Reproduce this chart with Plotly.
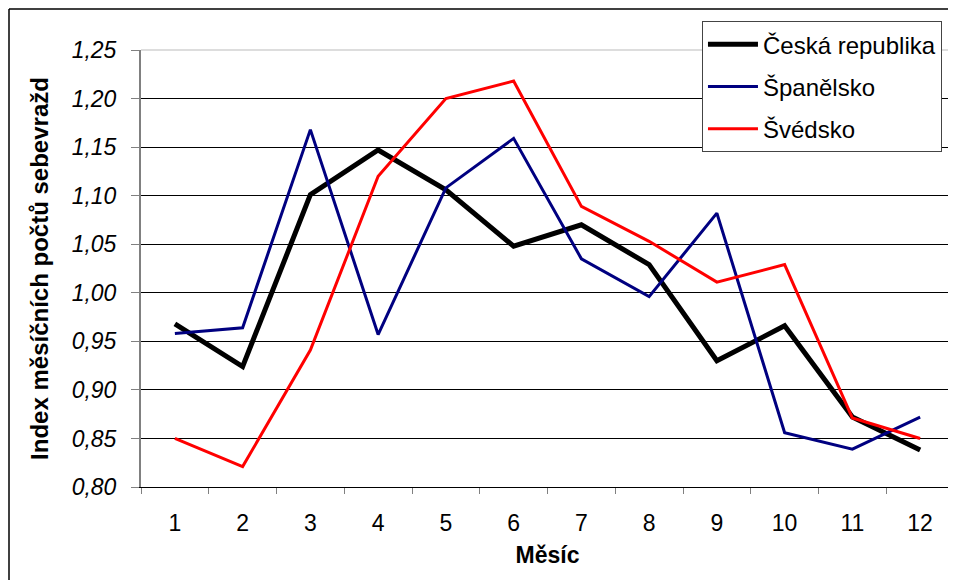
import plotly.graph_objects as go

months = ["1", "2", "3", "4", "5", "6", "7", "8", "9", "10", "11", "12"]
ceska = [0.968, 0.924, 1.101, 1.147, 1.106, 1.048, 1.070, 1.029, 0.930, 0.966, 0.872, 0.838]
spanelsko = [0.958, 0.964, 1.168, 0.957, 1.108, 1.159, 1.035, 0.996, 1.082, 0.856, 0.839, 0.872]
svedsko = [0.850, 0.821, 0.941, 1.120, 1.200, 1.218, 1.089, 1.053, 1.011, 1.029, 0.871, 0.850]
y_ticks = [0.80, 0.85, 0.90, 0.95, 1.00, 1.05, 1.10, 1.15, 1.20, 1.25]

FONT = "Liberation Sans, Arial, sans-serif"

fig = go.Figure()
fig.add_trace(go.Scatter(x=months, y=ceska, mode="lines", name="Česká republika",
                         line=dict(color="#000000", width=5), legendgroup="a"))
fig.add_trace(go.Scatter(x=months, y=spanelsko, mode="lines", name="Španělsko",
                         line=dict(color="#000080", width=3), legendgroup="b"))
fig.add_trace(go.Scatter(x=months, y=svedsko, mode="lines", name="Švédsko",
                         line=dict(color="#FF0000", width=3), legendgroup="c"))

L, R, T, B = 133, 10, 42, 101
PW, PH = 956 - L - R, 580 - T - B

fig.update_layout(
    width=956, height=580,
    margin=dict(l=L, r=R, t=T, b=B),
    paper_bgcolor="white", plot_bgcolor="white",
    separators=", ",
    font=dict(family=FONT, color="black"),
    showlegend=True,
    legend=dict(
        x=0.690, xanchor="left", y=1.066, yanchor="top",
        bgcolor="white", bordercolor="#444444", borderwidth=1,
        font=dict(size=24, family=FONT, color="black"),
        tracegroupgap=8, itemwidth=50,
    ),
    xaxis=dict(
        type="category", tickson="boundaries", ticks="outside", ticklen=6,
        tickcolor="#808080", showline=True, linecolor="black", linewidth=1,
        showgrid=False, tickfont=dict(size=23, family=FONT),
        ticklabelstandoff=15,
        title=dict(text="<b>Měsíc</b>", font=dict(size=23), standoff=12),
        range=[-0.5, 11.5],
    ),
    yaxis=dict(
        range=[0.80, 1.25], tickvals=y_ticks, tickformat=".2f",
        ticks="outside", ticklen=8, tickcolor="#808080",
        showline=True, linecolor="#808080", linewidth=2,
        showgrid=True, gridcolor="black", gridwidth=1,
        tickfont=dict(size=23, family=FONT, style="italic"),
        ticklabelstandoff=10,
        title=dict(text="<b>Index měsíčních počtů sebevražd</b>", font=dict(size=24), standoff=16),
        zeroline=False,
    ),
)

# light top border of the plot area at the upper gridline
fig.add_shape(type="line", xref="paper", yref="paper", x0=0, x1=1, y0=1, y1=1,
              line=dict(color="#DDDDDD", width=2), layer="above")
# outer chart frame (left and top)
fx = -(L - 1) / PW
fy = 1 + (T - 1) / PH
fig.add_shape(type="line", xref="paper", yref="paper", x0=fx, x1=fx, y0=fy, y1=-(B + 5) / PH,
              line=dict(color="black", width=1.5))
fig.add_shape(type="line", xref="paper", yref="paper", x0=fx, x1=1 + (R + 5) / PW, y0=fy, y1=fy,
              line=dict(color="black", width=1.5))

fig.write_html("out.html")
